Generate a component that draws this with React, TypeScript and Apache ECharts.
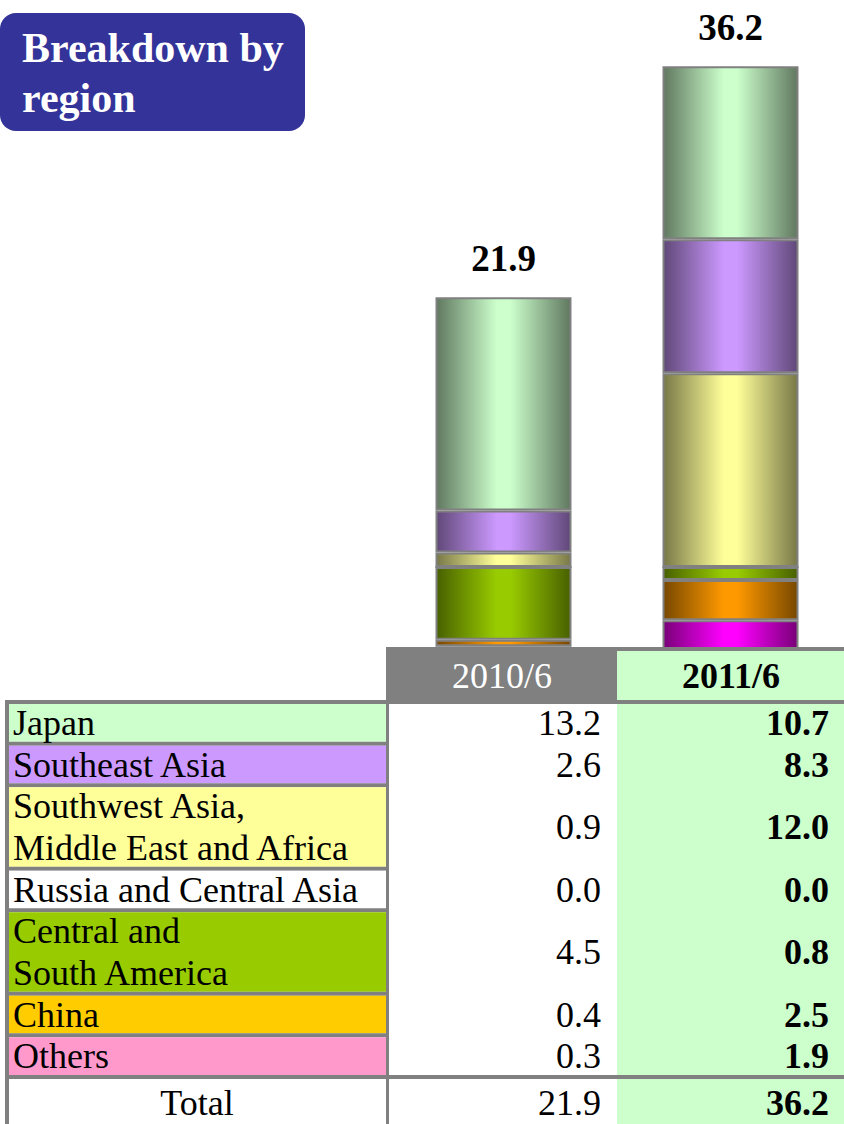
import React, { useEffect, useRef } from "react";
import * as echarts from "echarts";

const categories = ["2010/6", "2011/6"];
const regionLabels = [
  ["Japan"],
  ["Southeast Asia"],
  ["Southwest Asia,", "Middle East and Africa"],
  ["Russia and Central Asia"],
  ["Central and", "South America"],
  ["China"],
  ["Others"],
];
const values2010 = [13.2, 2.6, 0.9, 0.0, 4.5, 0.4, 0.3];
const values2011 = [10.7, 8.3, 12.0, 0.0, 0.8, 2.5, 1.9];
const totals = [21.9, 36.2];
const barColors = ["#CCFFCC", "#CC99FF", "#FFFF99", "#FFFFFF", "#99CC00", "#FF9900", "#FF00FF"];
const tableColors = ["#CCFFCC", "#CC99FF", "#FFFF99", "#FFFFFF", "#99CC00", "#FFCC00", "#FF99CC"];

const FONT = "'Liberation Serif', 'Times New Roman', serif";
const GRAY = "#808080";
const FS = 36;

function darken(hex: string, f: number) {
  const n = parseInt(hex.slice(1), 16);
  const r = Math.round(((n >> 16) & 255) * f);
  const g = Math.round(((n >> 8) & 255) * f);
  const b = Math.round((n & 255) * f);
  return `rgb(${r},${g},${b})`;
}

function grad(c: string) {
  return {
    type: "linear",
    x: 0, y: 0, x2: 1, y2: 0,
    colorStops: [
      { offset: 0, color: darken(c, 0.47) },
      { offset: 0.45, color: c },
      { offset: 0.55, color: c },
      { offset: 1, color: darken(c, 0.47) },
    ],
  };
}

function txt(text: string, x: number, y: number, opts: any = {}) {
  const align = opts.align || "left";
  return {
    type: "text",
    z: 20,
    style: {
      text,
      x,
      y,
      fill: opts.fill || "#000",
      fontSize: opts.fontSize || FS,
      fontFamily: FONT,
      fontWeight: opts.bold ? "bold" : "normal",
      align,
      textAlign: align,
      verticalAlign: "middle",
      textVerticalAlign: "middle",
    },
  };
}

function rect(x: number, y: number, w: number, h: number, fill: string, r = 0) {
  return { type: "rect", z: 10, shape: { x, y, width: w, height: h, r }, style: { fill } };
}

export default function App() {
  const ref = useRef<HTMLDivElement>(null);
  useEffect(() => {
    if (!ref.current) return;
    const chart = echarts.init(ref.current, null, { renderer: "svg" });

    // stacked from bottom: Others ... Japan
    const order = [6, 5, 4, 3, 2, 1, 0];
    const series = order.map((i, k) => ({
      type: "bar",
      name: regionLabels[i].join(" "),
      stack: "total",
      barWidth: 136,
      data: [values2010[i], values2011[i]],
      itemStyle: { color: grad(barColors[i]), borderColor: GRAY, borderWidth: 2 },
      label:
        k === order.length - 1
          ? {
              show: true,
              position: "top",
              distance: 20,
              formatter: (p: any) => totals[p.dataIndex].toFixed(1),
              fontFamily: FONT,
              fontWeight: "bold",
              fontSize: 37,
              color: "#000",
            }
          : { show: false },
    }));

    const g: any[] = [];
    // title box
    g.push(rect(0, 13, 305, 118, "#333399", 16));
    g.push(txt("Breakdown by", 22, 48, { fill: "#fff", bold: true, fontSize: 42 }));
    g.push(txt("region", 22, 98, { fill: "#fff", bold: true, fontSize: 42 }));

    // header
    g.push(rect(386, 647, 458, 4, GRAY));
    g.push(rect(386, 647, 231, 53, GRAY));
    g.push(rect(617, 651, 227, 49, "#CCFFCC"));
    g.push(txt(categories[0], 502, 676, { fill: "#fff", align: "center" }));
    g.push(txt(categories[1], 731, 676, { bold: true, align: "center" }));

    // body backgrounds
    g.push(rect(389, 704, 228, 420, "#FFFFFF"));
    g.push(rect(617, 704, 227, 420, "#CCFFCC"));
    // grid lines
    g.push(rect(5, 700, 839, 4, GRAY));
    g.push(rect(5, 700, 4, 424, GRAY));
    g.push(rect(386, 647, 3, 477, GRAY));

    const unit = 375 / 9;
    let y = 700;
    regionLabels.forEach((lines, i) => {
      const pitch = unit * lines.length;
      const top = y + 4;
      const bottom = y + pitch;
      g.push(rect(9, top, 377, bottom - top, tableColors[i]));
      g.push(rect(5, bottom, 384, 4, GRAY));
      const mid = (top + bottom) / 2;
      lines.forEach((ln, j) => {
        const ly = mid + (j - (lines.length - 1) / 2) * 42;
        g.push(txt(ln, 13, ly));
      });
      g.push(txt(values2010[i].toFixed(1), 601, mid, { align: "right" }));
      g.push(txt(values2011[i].toFixed(1), 829, mid, { bold: true, align: "right" }));
      y = bottom;
    });
    // total row
    g.push(rect(5, 1075, 839, 4, GRAY));
    g.push(rect(9, 1079, 377, 45, "#FFFFFF"));
    g.push(txt("Total", 197, 1103, { align: "center" }));
    g.push(txt(totals[0].toFixed(1), 601, 1103, { align: "right" }));
    g.push(txt(totals[1].toFixed(1), 829, 1103, { bold: true, align: "right" }));

    chart.setOption({
      animation: false,
      grid: { left: 390, width: 460, top: 5, bottom: 473 },
      xAxis: { type: "category", data: categories, show: false },
      yAxis: { type: "value", min: 0, max: 40, show: false },
      series,
      graphic: { elements: g },
    });
    return () => chart.dispose();
  }, []);
  return (
    <div
      ref={ref}
      style={{ position: "absolute", left: 0, top: 0, width: 844, height: 1124, background: "#fff" }}
    />
  );
}
